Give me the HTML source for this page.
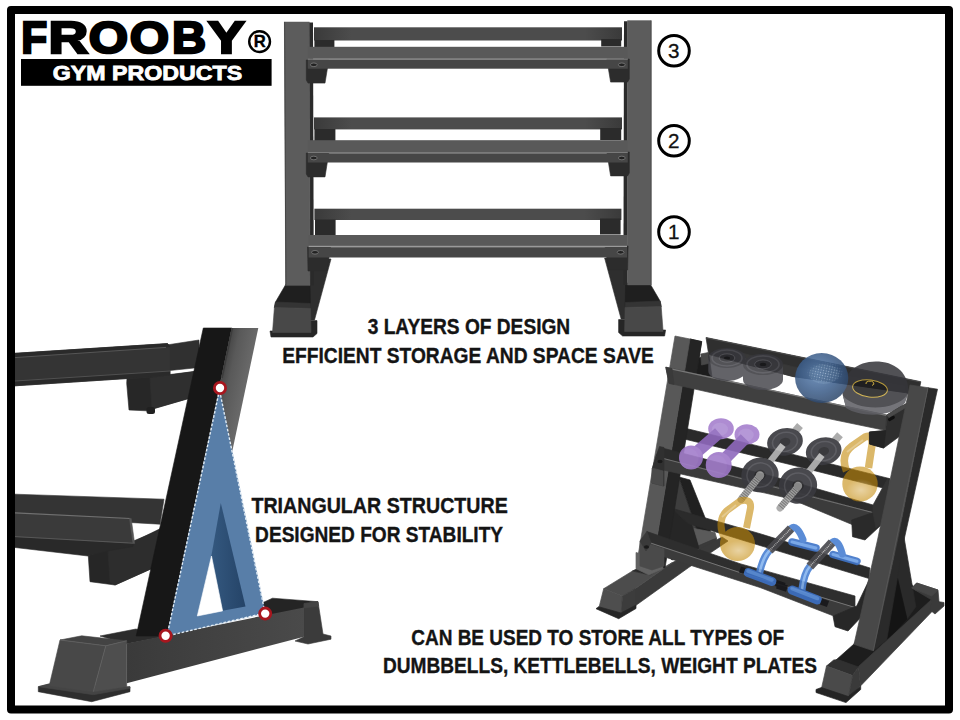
<!DOCTYPE html>
<html>
<head>
<meta charset="utf-8">
<title>Frooby Gym Products - Dumbbell Rack</title>
<style>
html,body{margin:0;padding:0;background:#fff;}
body{width:960px;height:720px;overflow:hidden;position:relative;font-family:"Liberation Sans",sans-serif;}
svg{position:absolute;left:0;top:0;display:block;}
text{font-family:"Liberation Sans",sans-serif;}
.cap{font-weight:bold;font-size:21.2px;fill:#141414;stroke:#141414;stroke-width:0.35px;}
.num{font-size:20.6px;fill:#111;stroke:#111;stroke-width:0.3px;}
</style>
</head>
<body>
<svg width="960" height="720" viewBox="0 0 960 720">
<rect x="0" y="0" width="960" height="720" fill="#ffffff"/>

<!-- RACK1 -->
<g id="rack1">
<defs>
<linearGradient id="r1rail" x1="0" x2="1" y1="0" y2="0">
<stop offset="0" stop-color="#3a3a3a"/><stop offset="0.12" stop-color="#4c4c4c"/><stop offset="0.88" stop-color="#4c4c4c"/><stop offset="1" stop-color="#3a3a3a"/>
</linearGradient>


</defs>
<!-- back rails -->
<rect x="314" y="27.3" width="308" height="13.2" fill="url(#r1rail)"/>
<rect x="314" y="117.4" width="308" height="12" fill="url(#r1rail)"/>
<rect x="314.4" y="208.7" width="307" height="11.3" fill="url(#r1rail)"/>
<g>
<!-- diagonal base beam -->
<polygon points="308,259 331,259 314.5,320 309,320 309,271" fill="#2e2e2e" stroke="#2e2e2e" stroke-width="0.6" stroke-linejoin="round"/>
<!-- foot -->
<polygon points="270,331 310,331 310,320.6 317,320.6 317,333.5 313,337 271,337" fill="#262626" stroke="#262626" stroke-width="0.6" stroke-linejoin="round"/>
<polygon points="286,284 310,284 310.5,308.5 274.4,307.5 275.5,302" fill="#1f1f1f" stroke="#1f1f1f" stroke-width="0.6" stroke-linejoin="round"/><polygon points="275.5,302 310.3,303.5 310.5,308.5 274.4,307.5" fill="#343434" stroke="#343434" stroke-width="0.6" stroke-linejoin="round"/>
<polygon points="274.4,307.5 310.5,308.5 311,332.5 272.5,332.5" fill="#484848" stroke="#484848" stroke-width="0.6" stroke-linejoin="round"/>
<!-- brackets under back rail -->
<rect x="314.4" y="40" width="20" height="7.5" fill="#2b2b2b"/>
<rect x="314.4" y="129" width="21" height="12" fill="#2b2b2b"/>
<rect x="315" y="219.5" width="20.6" height="16" fill="#2b2b2b"/>
<!-- post -->
</g>
<g transform="translate(935.6,-1) scale(-1,1)">
<!-- diagonal base beam -->
<polygon points="308,259 331,259 314.5,320 309,320 309,271" fill="#2e2e2e" stroke="#2e2e2e" stroke-width="0.6" stroke-linejoin="round"/>
<!-- foot -->
<polygon points="270,331 310,331 310,320.6 317,320.6 317,333.5 313,337 271,337" fill="#262626" stroke="#262626" stroke-width="0.6" stroke-linejoin="round"/>
<polygon points="286,284 310,284 310.5,308.5 274.4,307.5 275.5,302" fill="#1f1f1f" stroke="#1f1f1f" stroke-width="0.6" stroke-linejoin="round"/><polygon points="275.5,302 310.3,303.5 310.5,308.5 274.4,307.5" fill="#343434" stroke="#343434" stroke-width="0.6" stroke-linejoin="round"/>
<polygon points="274.4,307.5 310.5,308.5 311,332.5 272.5,332.5" fill="#484848" stroke="#484848" stroke-width="0.6" stroke-linejoin="round"/>
<!-- brackets under back rail -->
<rect x="314.4" y="40" width="20" height="7.5" fill="#2b2b2b"/>
<rect x="314.4" y="129" width="21" height="12" fill="#2b2b2b"/>
<rect x="315" y="219.5" width="20.6" height="16" fill="#2b2b2b"/>
<!-- post -->
</g>
<polygon points="309,22.5 313,22.5 313.8,285.6 309.6,285.6" fill="#2a2a2a"/>
<polygon points="284.4,21.9 309.4,21.9 310,285.6 285.7,285.6" fill="#5c5c5c" stroke="#5c5c5c" stroke-width="0.4"/>
<polyline points="284.6,21.9 285.9,285.6" fill="none" stroke="#454545" stroke-width="1"/>
<polygon points="624,21.3 627.6,21.3 627.6,285 623.4,285" fill="#2a2a2a"/>
<polygon points="627.5,20.6 651.25,20.6 651.25,285 627.5,285" fill="#5c5c5c" stroke="#5c5c5c" stroke-width="0.4"/>
<polyline points="651,20.6 651,285" fill="none" stroke="#4a4a4a" stroke-width="0.8"/>
<g>
<!-- brackets under front rail -->
<polygon points="306.3,60 328.8,60 325,83.1 308,83.1 306.3,80" fill="#2c2c2c" stroke="#2c2c2c" stroke-width="0.6" stroke-linejoin="round"/>
<polygon points="306.3,153 328.8,153 325,176.9 308,176.9 306.3,174" fill="#2c2c2c" stroke="#2c2c2c" stroke-width="0.6" stroke-linejoin="round"/>
<polygon points="307.5,247 330.6,247 327,271 308,271" fill="#2c2c2c" stroke="#2c2c2c" stroke-width="0.6" stroke-linejoin="round"/>
</g>
<g transform="translate(935.6,-1) scale(-1,1)">
<!-- brackets under front rail -->
<polygon points="306.3,60 328.8,60 325,83.1 308,83.1 306.3,80" fill="#2c2c2c" stroke="#2c2c2c" stroke-width="0.6" stroke-linejoin="round"/>
<polygon points="306.3,153 328.8,153 325,176.9 308,176.9 306.3,174" fill="#2c2c2c" stroke="#2c2c2c" stroke-width="0.6" stroke-linejoin="round"/>
<polygon points="307.5,247 330.6,247 327,271 308,271" fill="#2c2c2c" stroke="#2c2c2c" stroke-width="0.6" stroke-linejoin="round"/>
</g>
<!-- front rails -->
<g>
<rect x="307.8" y="46.8" width="320" height="12" fill="#595959"/>
<rect x="307.8" y="58.6" width="320" height="1.3" fill="#7a7a7a"/>
<rect x="307.8" y="59.9" width="320" height="8.8" fill="#464646"/>
<rect x="307.8" y="140.2" width="320" height="12" fill="#595959"/>
<rect x="307.8" y="152" width="320" height="1.3" fill="#7a7a7a"/>
<rect x="307.8" y="153.3" width="320" height="9.2" fill="#464646"/>
<rect x="308.6" y="235" width="318.4" height="11" fill="#595959"/>
<rect x="308.6" y="245.8" width="318.4" height="1.4" fill="#9a9a9a"/>
<rect x="308.6" y="247.2" width="318.4" height="10.3" fill="#464646"/>
</g>
<!-- bolts -->
<g fill="#222" stroke="#888" stroke-width="0.7">
<ellipse cx="313.8" cy="64.8" rx="3.4" ry="1.8"/><ellipse cx="621.8" cy="64.8" rx="3.4" ry="1.8"/>
<ellipse cx="313.8" cy="158" rx="3.4" ry="1.8"/><ellipse cx="621.8" cy="158" rx="3.4" ry="1.8"/>
<ellipse cx="315" cy="252.3" rx="3.4" ry="1.8"/><ellipse cx="620.6" cy="252.3" rx="3.4" ry="1.8"/>
</g>
</g>
<!-- RACK2 -->
<g id="rack2">
<defs>
<linearGradient id="r2light" x1="222" y1="380" x2="249" y2="386" gradientUnits="userSpaceOnUse">
<stop offset="0" stop-color="#4a4a4a"/><stop offset="0.25" stop-color="#595959"/><stop offset="1" stop-color="#6c6c6c"/>
</linearGradient>
<linearGradient id="r2beam" x1="126" y1="0" x2="304" y2="0" gradientUnits="userSpaceOnUse">
<stop offset="0" stop-color="#3a3a3a"/><stop offset="1" stop-color="#4a4a4a"/>
</linearGradient>
<linearGradient id="r2dblue" x1="211" y1="0" x2="245" y2="0" gradientUnits="userSpaceOnUse">
<stop offset="0" stop-color="#34587f"/><stop offset="1" stop-color="#254468"/>
</linearGradient>
</defs>
<!-- upper back rail -->
<polygon points="160,346 199,340 199,367.5 165,371" fill="#303030" stroke="#303030" stroke-width="0.6" stroke-linejoin="round"/>
<!-- upper bracket -->
<polygon points="126.7,383.3 127,378 143,376 170,374.5 196,371.3 192,397.5 146.7,410.8 129,410" fill="#272727" stroke="#272727" stroke-width="0.6" stroke-linejoin="round"/>
<polygon points="150,378 196,371.3 192,397.5 152,409" fill="#2f2f2f" stroke="#2f2f2f" stroke-width="0.6" stroke-linejoin="round"/>
<rect x="146.5" y="407" width="8.5" height="7" rx="2.5" fill="#202020"/>
<!-- upper front rail -->
<polygon points="15,353.3 167.5,343.6 170,346.7 170,375 143,377.5 15,385.8" fill="#343434" stroke="#343434" stroke-width="0.6" stroke-linejoin="round"/>
<polygon points="15,353.3 167.5,343.6 170,346.7 15,357.6" fill="#2a2a2a" stroke="#2a2a2a" stroke-width="0.6" stroke-linejoin="round"/>
<polyline points="15,357.6 166,347.4" fill="none" stroke="#5a5a5a" stroke-width="0.9"/>
<polygon points="15,381 170,371 170,375 143,377.5 15,385.8" fill="#2a2a2a" stroke="#2a2a2a" stroke-width="0.6" stroke-linejoin="round"/>
<polyline points="15,381 170,371" fill="none" stroke="#555" stroke-width="0.9"/>
<!-- lower back rail -->
<polygon points="15,494.2 164,499.2 160,524.2 15,516" fill="#343434" stroke="#343434" stroke-width="0.6" stroke-linejoin="round"/>
<!-- lower bracket -->
<polygon points="88.3,555.8 108,549 133,542 160.5,528.5 153,568 115,585 90,581.7" fill="#262626" stroke="#262626" stroke-width="0.6" stroke-linejoin="round"/>
<polygon points="108,551.5 160,530 153,568 115,585 110,582" fill="#2d2d2d" stroke="#2d2d2d" stroke-width="0.6" stroke-linejoin="round"/>
<!-- lower front rail -->
<polygon points="15,536 133.3,543.3 133,546.5 110,550.5 88,556 15,547.5" fill="#292929" stroke="#292929" stroke-width="0.6" stroke-linejoin="round"/>
<polygon points="15,512.5 130,518.3 133.3,543.3 15,536.7" fill="#3a3a3a" stroke="#3a3a3a" stroke-width="0.6" stroke-linejoin="round"/>
<polyline points="15,512.8 130,518.5" fill="none" stroke="#707070" stroke-width="1.2"/>
<polyline points="15,536.6 133,543.2" fill="none" stroke="#5a5a5a" stroke-width="0.9"/>
<polygon points="129.5,518.3 131.2,518.5 134.6,543.4 133,543.3" fill="#555" stroke="#555" stroke-width="0.6" stroke-linejoin="round"/>
<!-- base beam top face and right foot -->
<polygon points="100,636 136,629 162,637 126.7,643.8" fill="#2c2c2c" stroke="#2c2c2c" stroke-width="0.6" stroke-linejoin="round"/>
<polygon points="262,603 272.5,598.2 318,601.7 305,608 264,617" fill="#242424" stroke="#242424" stroke-width="0.6" stroke-linejoin="round"/>
<polygon points="304,603.5 318,601.7 323,634 331,636 331,639.2 308,644 295,641 304,636.7" fill="#3b3b3b" stroke="#3b3b3b" stroke-width="0.6" stroke-linejoin="round"/>
<polygon points="304,603.5 318,601.7 318.6,606 304,608" fill="#444" stroke="#444" stroke-width="0.6" stroke-linejoin="round"/>
<!-- post -->
<polygon points="203.3,328 231.7,328 167,636 136.2,636" fill="#171717" stroke="#171717" stroke-width="0.6" stroke-linejoin="round"/>
<polygon points="231.7,328 258.3,328 197.5,615.8 170,622" fill="url(#r2light)"/>
<polyline points="232.4,328 222,378" fill="none" stroke="#3c3c3c" stroke-width="1.6"/>
<!-- blue triangle -->
<polygon points="219.5,390 167,636 265,613" fill="#587ea8" stroke="#587ea8" stroke-width="0.6" stroke-linejoin="round"/>
<polygon points="220.8,503 211.2,556.7 222.5,610.8 245.5,606.5" fill="url(#r2dblue)"/>
<polygon points="211.5,556 197.3,616 222.6,610.9" fill="#fff" stroke="#fff" stroke-width="0.6" stroke-linejoin="round"/>
<!-- base beam front face -->
<polygon points="126.7,643.4 304,607.5 304,636.7 126.7,683.3" fill="url(#r2beam)"/>
<!-- dashed outline -->
<polygon points="219.5,390 167,636 265,613" fill="none" stroke="#e2edf6" stroke-width="1.35" stroke-dasharray="2.6,1.7"/>
<!-- left foot -->
<polygon points="38.3,686.7 49,684 130,687 130,691.7 91.7,701.7 38.3,691.7" fill="#2e2e2e" stroke="#2e2e2e" stroke-width="0.6" stroke-linejoin="round"/>
<polygon points="38.3,686.7 49,684 93.3,691.5 130,686.5 130,688.3 93.3,694.7" fill="#444" stroke="#444" stroke-width="0.6" stroke-linejoin="round"/>
<polygon points="60,640 81.7,635.8 126.7,640.8 105.8,645.8" fill="#434343" stroke="#434343" stroke-width="0.6" stroke-linejoin="round"/>
<polygon points="60,640 105.8,645.8 93.3,691.7 49.2,685.8" fill="#484848" stroke="#484848" stroke-width="0.6" stroke-linejoin="round"/>
<polygon points="105.8,645.8 126.7,640.8 126.7,686.7 93.3,691.7" fill="#4e4e4e" stroke="#4e4e4e" stroke-width="0.6" stroke-linejoin="round"/>
<polyline points="60,640 105.8,645.8 126.7,640.8" fill="none" stroke="#666" stroke-width="0.7"/>
<polyline points="105.8,645.8 93.3,691.7" fill="none" stroke="#666" stroke-width="0.7"/>
<!-- red dots -->
<g fill="#fff" stroke="#a8161e" stroke-width="2.8">
<circle cx="220" cy="388" r="5.6"/>
<circle cx="165.6" cy="635.8" r="5.6"/>
<circle cx="265.2" cy="613.6" r="5.6"/>
</g>
</g>
<!-- RACK3 -->
<g id="rack3">
<defs>
<radialGradient id="ballg" cx="0.42" cy="0.4" r="0.65"><stop offset="0" stop-color="#5c82b2"/><stop offset="0.55" stop-color="#3d5f8c"/><stop offset="1" stop-color="#2c4568"/></radialGradient>
<radialGradient id="kbg" cx="0.45" cy="0.6" r="0.6"><stop offset="0" stop-color="#ecd590"/><stop offset="0.6" stop-color="#dcb95a"/><stop offset="1" stop-color="#c9a242"/></radialGradient>
<pattern id="dots" width="2.6" height="2.6" patternUnits="userSpaceOnUse" patternTransform="rotate(12)"><circle cx="1.3" cy="1.3" r="0.62" fill="#b9d2ee"/></pattern>
<radialGradient id="dotfade" cx="0.5" cy="0.5" r="0.5"><stop offset="0" stop-color="#fff"/><stop offset="0.6" stop-color="#fff" stop-opacity="0.7"/><stop offset="1" stop-color="#fff" stop-opacity="0"/></radialGradient>
<radialGradient id="softw" cx="0.5" cy="0.5" r="0.5"><stop offset="0" stop-color="#fff" stop-opacity="0.38"/><stop offset="1" stop-color="#fff" stop-opacity="0"/></radialGradient>
<mask id="dotmask"><ellipse cx="825" cy="373" rx="19" ry="11" fill="url(#dotfade)"/></mask>
</defs>
<polygon points="665,482 679,477 703,548 683,552" fill="#3e3e3e" stroke="#3e3e3e" stroke-width="0.7" stroke-linejoin="round" />
<polygon points="679,477 690,480 716,545 703,548" fill="#202020" stroke="#202020" stroke-width="0.7" stroke-linejoin="round" />
<polygon points="664,505 690,520 700,548 672,560 660,548" fill="#262626" stroke="#262626" stroke-width="0.7" stroke-linejoin="round" />
<polygon points="694,528.5 715,532.5 716.5,538 699,545.5" fill="#5a5a5a" stroke="#5a5a5a" stroke-width="0.7" stroke-linejoin="round" />
<polygon points="699,545.5 716.5,538 717,544 700,552" fill="#3a3a3a" stroke="#3a3a3a" stroke-width="0.7" stroke-linejoin="round" />
<polygon points="635,588.7 672.5,562.5 700,549 722,537 728,541 688.7,567.5 635,606" fill="#3a3a3a" stroke="#3a3a3a" stroke-width="0.7" stroke-linejoin="round" />
<polygon points="603.7,588.7 632.5,571 650,575 672.5,562.5 635,588.7 622.5,596" fill="#4c4c4c" stroke="#4c4c4c" stroke-width="0.7" stroke-linejoin="round" />
<polygon points="632.5,571 650,575 662,568 648,563" fill="#2a2a2a" stroke="#2a2a2a" stroke-width="0.7" stroke-linejoin="round" />
<polygon points="836,660 854,644 880,600 897,560 915,590 932,598.5 932,601 858.5,668" fill="#1d1d1d" stroke="#1d1d1d" stroke-width="0.7" stroke-linejoin="round" />
<polygon points="893,500 897.5,500 904.5,540 915.8,606.7 907,619 896,582" fill="#2a2a2a" stroke="#2a2a2a" stroke-width="0.7" stroke-linejoin="round" />
<polygon points="897.5,578 907,619 888,639 880,640" fill="#141414" stroke="#141414" stroke-width="0.7" stroke-linejoin="round" />
<polygon points="858.5,666.5 931.5,599.5 933,610.5 860.5,686" fill="#3c3c3c" stroke="#3c3c3c" stroke-width="0.7" stroke-linejoin="round" />
<polygon points="911.7,588 916.7,583 938,590 939,601.7 944,602.5 944,606 935,614 930,610 931.7,600" fill="#3a3a3a" stroke="#3a3a3a" stroke-width="0.7" stroke-linejoin="round" />
<polygon points="911.7,588 916.7,583 938,590 931.7,596" fill="#464646" stroke="#464646" stroke-width="0.7" stroke-linejoin="round" />
<polygon points="706,337.5 920.8,381.7 918,396.5 905,392.5 793,376.5 708.7,354.4" fill="#2f2f2f" stroke="#2f2f2f" stroke-width="0.7" stroke-linejoin="round" />
<polygon points="740,352.5 793,366.7 905,386 905,392.5 793,376.5 740,362.7" fill="#383838" stroke="#383838" stroke-width="0.7" stroke-linejoin="round" />
<line x1="706.5" y1="338" x2="920.5" y2="382" stroke="#4a4a4a" stroke-width="1" />
<polygon points="690,339 701.7,341.5 699,358 708.7,353.5 712,377 676,370" fill="#1c1c1c" stroke="#1c1c1c" stroke-width="0.7" stroke-linejoin="round" />
<polygon points="700.8,354 708.3,352.5 708.3,363.5 701.5,365" fill="#474747" stroke="#474747" stroke-width="0.7" stroke-linejoin="round" />
<polygon points="676,426 790,453.7 890,478.7 889,489.5 790,464.5 678,437.5" fill="#2a2a2a" stroke="#2a2a2a" stroke-width="0.7" stroke-linejoin="round" />
<polygon points="671,508 760,533.7 870,568 869,578.5 760,545.5 688,523.5" fill="#2b2b2b" stroke="#2b2b2b" stroke-width="0.7" stroke-linejoin="round" />
<polygon points="690,339 701.7,341.7 665,568 652.5,565" fill="#242424" stroke="#242424" stroke-width="0.7" stroke-linejoin="round" />
<polygon points="675,336 690,339 652.5,565 637.5,559" fill="#585858" stroke="#585858" stroke-width="0.7" stroke-linejoin="round" />
<polygon points="636,552.5 662.5,560 662.5,568.7 649,575 636,568.7" fill="#626262" stroke="#626262" stroke-width="0.7" stroke-linejoin="round" />
<polygon points="665.8,367.2 810,398.7 886.7,415 885.8,430.5 810,414.8 669,383.3" fill="#404040" stroke="#404040" stroke-width="0.7" stroke-linejoin="round" />
<line x1="666.3" y1="367.8" x2="886.5" y2="415.4" stroke="#777" stroke-width="1.2" />
<polygon points="665.8,367.2 672,368.6 674,384.4 669,383.3" fill="#3a3a3a" stroke="#3a3a3a" stroke-width="0.7" stroke-linejoin="round" />
<polygon points="660,447.4 670,450 790,481 873,505 873,512.5 790,490 670,460 656,456.5" fill="#2c2c2c" stroke="#2c2c2c" stroke-width="0.7" stroke-linejoin="round" />
<polygon points="656,456.5 670,460 790,490 873,512.5 852,524.5 790,498.7 670,471.5 652.7,467.5" fill="#3b3b3b" stroke="#3b3b3b" stroke-width="0.7" stroke-linejoin="round" />
<line x1="656" y1="456.6" x2="873" y2="512.6" stroke="#707070" stroke-width="1" />
<polygon points="851.7,520 873,512.5 885,490 886.5,520 865,540 852.5,536.7" fill="#2a2a2a" stroke="#2a2a2a" stroke-width="0.7" stroke-linejoin="round" />
<polygon points="873,505 888,478 890,491 886.5,520 876,528 873,512.5" fill="#333" stroke="#333" stroke-width="0.7" stroke-linejoin="round" />
<polygon points="659.5,446.5 664,447.5 664,486 652,483 652.5,468 656,457" fill="#303030" stroke="#303030" stroke-width="0.7" stroke-linejoin="round" />
<polygon points="652,468 663,471 663,486 652,483" fill="#4a4a4a" stroke="#4a4a4a" stroke-width="0.7" stroke-linejoin="round" />
<polygon points="646.9,531.5 740,563.7 855,596 855,607.5 740,572.5 651,543" fill="#2e2e2e" stroke="#2e2e2e" stroke-width="0.7" stroke-linejoin="round" />
<polygon points="651,543 740,572.5 855,607.5 833.7,616 760,587.5 646,551" fill="#3b3b3b" stroke="#3b3b3b" stroke-width="0.7" stroke-linejoin="round" />
<line x1="651" y1="543.2" x2="740" y2="572.6" stroke="#747474" stroke-width="1" />
<line x1="740" y1="572.6" x2="855" y2="607.5" stroke="#747474" stroke-width="1" />
<polygon points="833,616 856.7,606 870,578 871,600 865,613 848,631 835,626.7" fill="#272727" stroke="#272727" stroke-width="0.7" stroke-linejoin="round" />
<polygon points="640,541 652,545 664,549 664,566 652,570 640,566" fill="#4a4a4a" stroke="#4a4a4a" stroke-width="0.7" stroke-linejoin="round" />
<polygon points="640,541 646.9,531.5 651,543 646,551" fill="#3a3a3a" stroke="#3a3a3a" stroke-width="0.7" stroke-linejoin="round" />
<ellipse cx="646.5" cy="547" rx="2.6" ry="1.8" fill="#1a1a1a"/>
<ellipse cx="660" cy="461.5" rx="2.6" ry="1.8" fill="#1a1a1a"/>
<g opacity="0.86">
<path d="M708.3,358 L708.3,371 A18.7,10 0 0 0 745.7,371 L745.7,358 Z" fill="#4a4a50"/><ellipse cx="727" cy="358" rx="18.7" ry="10" fill="#37373c"/><ellipse cx="727" cy="358" rx="14.96" ry="8.0" fill="none" stroke="#4c4c52" stroke-width="1.6"/><ellipse cx="727" cy="358" rx="7.853999999999999" ry="4.2" fill="#2a2a2e" stroke="#55555b" stroke-width="1"/><ellipse cx="727" cy="358" rx="2.992" ry="1.6" fill="#151517"/>
<path d="M743,364.4 L743,379.4 A20,10.6 0 0 0 783,379.4 L783,364.4 Z" fill="#4a4a50"/><ellipse cx="763" cy="364.4" rx="20" ry="10.6" fill="#37373c"/><ellipse cx="763" cy="364.4" rx="16.0" ry="8.48" fill="none" stroke="#4c4c52" stroke-width="1.6"/><ellipse cx="763" cy="364.4" rx="8.4" ry="4.452" fill="#2a2a2e" stroke="#55555b" stroke-width="1"/><ellipse cx="763" cy="364.4" rx="3.2" ry="1.696" fill="#151517"/>
<path d="M842.5,394 C841,373 858,360 879,361.5 C899,363 910,377 908,394 L905,402 C895,416 862,418 846,407 Z" fill="#35353a"/>
<path d="M843,396 C858,412 896,411 907,395 L905,403 C893,417 862,418 846,408 Z" fill="#5e5e64"/>
<ellipse cx="870" cy="388.5" rx="17.5" ry="8.5" fill="#1b1b1d" stroke="#c9a83c" stroke-width="1" transform="rotate(7 870 388.5)"/>
<path d="M866,384 a4,2.4 0 1 1 6,1.5" fill="none" stroke="#e6c040" stroke-width="1"/>
<ellipse cx="821.7" cy="378" rx="26.6" ry="25" fill="url(#ballg)"/>
<ellipse cx="824" cy="374" rx="15" ry="10" fill="#9db9da" opacity="0.15"/>
<rect x="800" y="358" width="50" height="32" fill="url(#dots)" mask="url(#dotmask)"/>
</g>
<g opacity="0.9">
<ellipse cx="721" cy="428.7" rx="12.8" ry="10.5" fill="#a680ce"/><ellipse cx="720" cy="429.2" rx="7.936" ry="6.51" fill="#ae8dd3"/><line x1="694" y1="454.5" x2="719" y2="432.7" stroke="#8f69bd" stroke-width="12"/><ellipse cx="691" cy="457.5" rx="12" ry="12" fill="#9f78c9"/><ellipse cx="689" cy="458.5" rx="9.600000000000001" ry="10.2" fill="#a37ecb"/>
<ellipse cx="747" cy="434.4" rx="12.5" ry="10.2" fill="#a680ce"/><ellipse cx="746" cy="434.9" rx="7.75" ry="6.324" fill="#ae8dd3"/><line x1="721.7" y1="462" x2="745" y2="438.4" stroke="#8f69bd" stroke-width="12"/><ellipse cx="718.7" cy="465" rx="13" ry="13" fill="#9f78c9"/><ellipse cx="716.7" cy="466" rx="10.4" ry="11.049999999999999" fill="#a37ecb"/>
</g>
<g opacity="0.92">
<line x1="787" y1="441" x2="800" y2="425.5" stroke="#a6a6a6" stroke-width="7.5" />
<line x1="826" y1="451" x2="840" y2="434.8" stroke="#a6a6a6" stroke-width="7.5" />
<g transform="rotate(-12 785 441.9)"><ellipse cx="785" cy="441.9" rx="18" ry="13.7" fill="#3a3a3f"/><ellipse cx="785" cy="441.9" rx="12.6" ry="9.589999999999998" fill="none" stroke="#505056" stroke-width="1.5"/><ellipse cx="785" cy="441.9" rx="5.3999999999999995" ry="4.109999999999999" fill="#2a2a2d"/></g>
<g transform="rotate(-12 823.7 451.2)"><ellipse cx="823.7" cy="451.2" rx="18" ry="13.7" fill="#3a3a3f"/><ellipse cx="823.7" cy="451.2" rx="12.6" ry="9.589999999999998" fill="none" stroke="#505056" stroke-width="1.5"/><ellipse cx="823.7" cy="451.2" rx="5.3999999999999995" ry="4.109999999999999" fill="#2a2a2d"/></g>
<line x1="783" y1="445" x2="762" y2="472" stroke="#b4b4b4" stroke-width="6.5" />
<line x1="822" y1="455" x2="800" y2="483" stroke="#b4b4b4" stroke-width="6.5" />
<g transform="rotate(-12 760 475)"><ellipse cx="760" cy="475" rx="18.7" ry="17.3" fill="#3a3a3f"/><ellipse cx="760" cy="475" rx="13.089999999999998" ry="12.11" fill="none" stroke="#505056" stroke-width="1.5"/><ellipse cx="760" cy="475" rx="5.609999999999999" ry="5.19" fill="#2a2a2d"/></g>
<g transform="rotate(-12 798 485.6)"><ellipse cx="798" cy="485.6" rx="19.2" ry="18" fill="#3a3a3f"/><ellipse cx="798" cy="485.6" rx="13.44" ry="12.6" fill="none" stroke="#505056" stroke-width="1.5"/><ellipse cx="798" cy="485.6" rx="5.76" ry="5.3999999999999995" fill="#2a2a2d"/></g>
<line x1="759" y1="477" x2="741" y2="499.5" stroke="#a8a8a8" stroke-width="7" stroke-linecap="round"/>
<line x1="797" y1="488" x2="780" y2="508" stroke="#a8a8a8" stroke-width="7" stroke-linecap="round"/>
<line x1="759" y1="477" x2="741" y2="499.5" stroke="#6f6f6f" stroke-width="7" stroke-dasharray="1,1.2"/>
<line x1="797" y1="488" x2="780" y2="508" stroke="#6f6f6f" stroke-width="7" stroke-dasharray="1,1.2"/>
<circle cx="760" cy="475.5" r="4.2" fill="#8f8f8f"/><circle cx="798" cy="486" r="4.2" fill="#8f8f8f"/>
</g>
<g opacity="0.6">
<path d="M846.5,471 C842.5,461 844,452 852,446 L865,437 Q873,434 872,445 L868.5,468" fill="none" stroke="#c48a08" stroke-width="7.5" stroke-linejoin="round"/>
<ellipse cx="860" cy="484" rx="17.7" ry="17.5" fill="#c48a08"/>
<path d="M724.5,538 C719,528 720,517 727,510.5 L740,501 Q751.5,498 750.5,508 L746.5,528" fill="none" stroke="#c48a08" stroke-width="7" stroke-linejoin="round"/>
<ellipse cx="737.5" cy="544" rx="17.5" ry="17" fill="#c48a08"/>
</g>
<ellipse cx="861" cy="490" rx="15" ry="11" fill="url(#softw)"/>
<ellipse cx="738.5" cy="550.5" rx="15" ry="10" fill="url(#softw)"/>
<path d="M847,452 L863,440" stroke="#fff" stroke-width="2" opacity="0.25" fill="none"/>
<path d="M722,517 L736,505" stroke="#fff" stroke-width="2" opacity="0.25" fill="none"/>
<g opacity="0.9">
<line x1="792" y1="542" x2="816" y2="548" stroke="#3f74c8" stroke-width="7.5" stroke-linecap="round"/><line x1="792" y1="542" x2="816" y2="548" stroke="#6da0e6" stroke-width="3" stroke-linecap="round"/><path d="M791,528.5 Q797,524 803,539.5" fill="none" stroke="#4a80d2" stroke-width="7" stroke-linecap="round"/><path d="M769.4,550.5 Q763,557 759.5,573" fill="none" stroke="#4a80d2" stroke-width="7.3" stroke-linecap="round"/><path d="M769.4,550.5 Q763,557 759.5,573" fill="none" stroke="#86b4ee" stroke-width="2.6" stroke-linecap="round"/><line x1="748" y1="572.5" x2="772" y2="581.5" stroke="#3c70c4" stroke-width="9" stroke-linecap="round"/><line x1="748" y1="571.0" x2="772" y2="580.0" stroke="#5b90dc" stroke-width="3.5" stroke-linecap="round"/><line x1="740" y1="569.5" x2="744.5" y2="571" stroke="#17171a" stroke-width="6.5" /><line x1="776" y1="583" x2="784.5" y2="586" stroke="#17171a" stroke-width="6.5" /><line x1="769.4" y1="550.5" x2="791" y2="528.5" stroke="#47474c" stroke-width="8.8" stroke-linecap="butt"/><line x1="769.4" y1="550.5" x2="791" y2="528.5" stroke="#b8b8b8" stroke-width="1.5" stroke-dasharray="0.9,0.9"/>
<line x1="833" y1="554.5" x2="857" y2="561.3" stroke="#3f74c8" stroke-width="7.5" stroke-linecap="round"/><line x1="833" y1="554.5" x2="857" y2="561.3" stroke="#6da0e6" stroke-width="3" stroke-linecap="round"/><path d="M832,542.5 Q838,538 842.3,554" fill="none" stroke="#4a80d2" stroke-width="7" stroke-linecap="round"/><path d="M809.8,566.5 Q804,573 801.8,590.5" fill="none" stroke="#4a80d2" stroke-width="7.3" stroke-linecap="round"/><path d="M809.8,566.5 Q804,573 801.8,590.5" fill="none" stroke="#86b4ee" stroke-width="2.6" stroke-linecap="round"/><line x1="792" y1="590" x2="817.5" y2="600" stroke="#3c70c4" stroke-width="9" stroke-linecap="round"/><line x1="792" y1="588.5" x2="817.5" y2="598.5" stroke="#5b90dc" stroke-width="3.5" stroke-linecap="round"/><line x1="777" y1="585.5" x2="787" y2="588.7" stroke="#17171a" stroke-width="6.5" /><line x1="821" y1="601.5" x2="828" y2="604" stroke="#17171a" stroke-width="6.5" /><line x1="809.8" y1="566.5" x2="832" y2="542.5" stroke="#47474c" stroke-width="8.8" stroke-linecap="butt"/><line x1="809.8" y1="566.5" x2="832" y2="542.5" stroke="#b8b8b8" stroke-width="1.5" stroke-dasharray="0.9,0.9"/>
</g>
<polygon points="886.7,415 900,407 907,403.3 907,420 900,436 883.7,448 869.5,444 869.4,432 885.8,430.5" fill="#2e2e2e" stroke="#2e2e2e" stroke-width="0.7" stroke-linejoin="round" />
<polygon points="869.4,432 885.8,430.5 883.7,448 869.5,444" fill="#242424" stroke="#242424" stroke-width="0.7" stroke-linejoin="round" />
<polygon points="886.7,415 907,403.3 910,405 889,417.5" fill="#4a4a4a" stroke="#4a4a4a" stroke-width="0.7" stroke-linejoin="round" />
<rect x="887.6" y="417.2" width="7.5" height="3" rx="1.5" fill="#0f0f0f" transform="rotate(-30 891 418.5)"/>
<polygon points="928,387.7 937.5,389.2 904,540 886.7,640 873.3,650.8 897.5,540" fill="#2a2a2a" stroke="#2a2a2a" stroke-width="0.7" stroke-linejoin="round" />
<polygon points="910,385 928,387.7 897.5,540 873.3,650.8 854,644.3 877.5,540" fill="#484848" stroke="#484848" stroke-width="0.7" stroke-linejoin="round" />
<line x1="928" y1="387.7" x2="873.3" y2="650.8" stroke="#5a5a5a" stroke-width="0.8" />
<polygon points="826.5,666 833.7,660 838,659.6 858.5,667 852.7,675.6" fill="#303030" stroke="#303030" stroke-width="0.7" stroke-linejoin="round" />
<polygon points="826.5,666 852.7,675.6 848.3,697.5 821.4,688.7" fill="#4a4a4a" stroke="#4a4a4a" stroke-width="0.7" stroke-linejoin="round" />
<polygon points="852.7,675.6 858.5,667 860.5,685.8 848.3,697.5" fill="#3a3a3a" stroke="#3a3a3a" stroke-width="0.7" stroke-linejoin="round" />
<polygon points="816,689.5 821.4,687.5 848.3,696.5 860.7,686 860.7,689.5 846,702.6 816,692.5" fill="#242424" stroke="#242424" stroke-width="0.7" stroke-linejoin="round" />
<polygon points="603.7,588.7 622.5,596 621,615 598.7,608.7" fill="#4e4e4e" stroke="#4e4e4e" stroke-width="0.7" stroke-linejoin="round" />
<polygon points="622.5,596 635,588.7 635,606 621,615" fill="#3c3c3c" stroke="#3c3c3c" stroke-width="0.7" stroke-linejoin="round" />
<polygon points="596,608.7 598.7,606.7 621,613 636,605 636,608.5 618.7,618.7" fill="#262626" stroke="#262626" stroke-width="0.7" stroke-linejoin="round" />
</g>

<!-- logo -->
<g id="logo">
<g transform="translate(21.30,52.6) scale(0.944,1)"><text x="0" y="0" font-weight="bold" font-size="45" stroke="#000" stroke-width="2.4" fill="#000">F</text></g><g transform="translate(48.50,52.6) scale(1.224,1)"><text x="0" y="0" font-weight="bold" font-size="45" stroke="#000" stroke-width="2.4" fill="#000">R</text></g><g transform="translate(88.73,52.6) scale(1.124,1)"><text x="0" y="0" font-weight="bold" font-size="45" stroke="#000" stroke-width="2.4" fill="#000">O</text></g><g transform="translate(129.63,52.6) scale(1.124,1)"><text x="0" y="0" font-weight="bold" font-size="45" stroke="#000" stroke-width="2.4" fill="#000">O</text></g><g transform="translate(172.11,52.6) scale(1.048,1)"><text x="0" y="0" font-weight="bold" font-size="45" stroke="#000" stroke-width="2.4" fill="#000">B</text></g><g transform="translate(208.09,52.6) scale(1.228,1)"><text x="0" y="0" font-weight="bold" font-size="45" stroke="#000" stroke-width="2.4" fill="#000">Y</text></g>
<circle cx="259.6" cy="41.6" r="10.4" fill="none" stroke="#000" stroke-width="2.4"/><text x="259.7" y="47.3" text-anchor="middle" font-weight="bold" font-size="16.6" stroke="#000" stroke-width="0.4" fill="#000">R</text>
<rect x="21" y="59" width="250.6" height="26.8" fill="#000"/>
<g transform="translate(52.8,79.6) scale(1.184,1)"><text x="0" y="0" font-weight="bold" font-size="19.6" stroke="#fff" stroke-width="0.8" fill="#fff">GYM PRODUCTS</text></g>
</g>

<!-- captions -->
<g id="captions">
<text class="cap" x="367.7" y="334.1" textLength="202.5" lengthAdjust="spacingAndGlyphs">3 LAYERS OF DESIGN</text>
<text class="cap" x="282.2" y="363.2" textLength="371.6" lengthAdjust="spacingAndGlyphs">EFFICIENT STORAGE AND SPACE SAVE</text>
<text class="cap" x="251.4" y="512.8" textLength="256.4" lengthAdjust="spacingAndGlyphs">TRIANGULAR STRUCTURE</text>
<text class="cap" x="255.1" y="541.6" textLength="248" lengthAdjust="spacingAndGlyphs">DESIGNED FOR STABILITY</text>
<text class="cap" x="411.2" y="645" textLength="373" lengthAdjust="spacingAndGlyphs">CAN BE USED TO STORE ALL TYPES OF</text>
<text class="cap" x="382.9" y="673.2" textLength="434" lengthAdjust="spacingAndGlyphs">DUMBBELLS, KETTLEBELLS, WEIGHT PLATES</text>
</g>

<!-- numbered circles -->
<g id="nums" fill="none" stroke="#000" stroke-width="3">
<circle cx="674" cy="50.75" r="15.3"/>
<circle cx="674" cy="140.8" r="15.3"/>
<circle cx="674" cy="232" r="15.3"/>
</g>
<g text-anchor="middle">
<text class="num" x="673.8" y="57.6">3</text>
<text class="num" x="673.8" y="147.7">2</text>
<text class="num" x="673.8" y="238.9">1</text>
</g>

<!-- frame -->
<rect x="11" y="10" width="938" height="699.5" fill="none" stroke="#000" stroke-width="8" stroke-linejoin="round"/>
</svg>
</body>
</html>
